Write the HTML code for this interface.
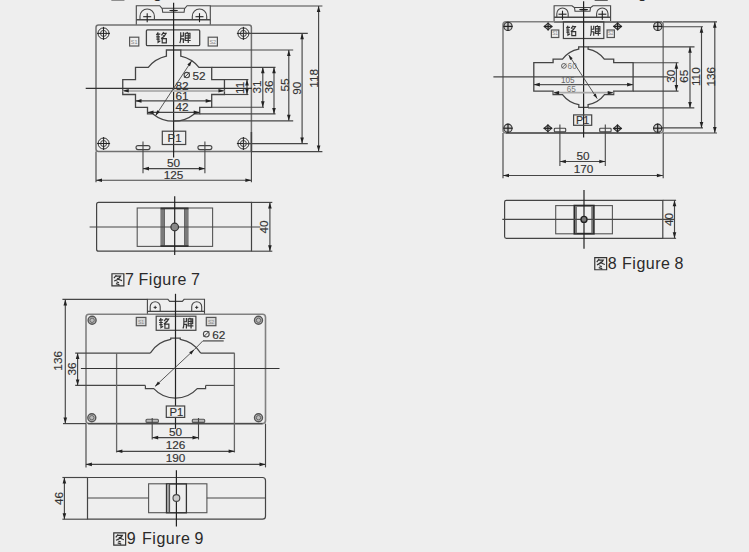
<!DOCTYPE html>
<html><head><meta charset="utf-8"><style>
html,body{margin:0;padding:0;background:#eeeeee;}
svg{display:block;font-family:"Liberation Sans",sans-serif;}
</style></head><body>
<svg width="749" height="552" viewBox="0 0 749 552">
<path transform="translate(111.30,-12.90) scale(1.100)" d="M0.6,0.6 H11.4 V11.6 H0.6 Z M4.6,1.8 L2.4,4.6 M3.8,2.8 H8.4 Q6.8,5.8 2.6,7.2 M5.2,4.6 Q7.5,6.2 9.8,6.8 M4.8,8 L7,8.8 M4.2,9.6 L7.4,10.6" stroke="#333" stroke-width="1.09" fill="none" stroke-linejoin="miter"/>
<text x="124.90" y="-1.90" font-size="16" text-anchor="start" fill="#2a2a2a">6</text>
<text x="138.60" y="-1.90" font-size="16" text-anchor="start" fill="#2a2a2a" letter-spacing="0.5" word-spacing="-0.8">Figure 6</text>
<path d="M136.3,25 V5.7 H159.7 L161.89999999999998,8.3 H184.9 L187.1,5.7 H210.3 V25" stroke="#464646" stroke-width="1.1" fill="none"/>
<path d="M162.2,8.3 L162.7,12.2 H184.1 L184.6,8.3" stroke="#464646" stroke-width="1.1" fill="none"/>
<line x1="136.30" y1="19.70" x2="210.30" y2="19.70" stroke="#464646" stroke-width="1.4"/>
<ellipse cx="173.6" cy="10.55" rx="4.5" ry="0.8" fill="#222"/>
<path d="M140.0,19.7 V16.2 A7.2,7.2 0 0 1 154.39999999999998,16.2 V19.7" stroke="#464646" stroke-width="1.1" fill="none"/>
<line x1="143.20" y1="16.70" x2="151.20" y2="16.70" stroke="#222" stroke-width="1.1"/>
<line x1="147.20" y1="13.20" x2="147.20" y2="22.20" stroke="#222" stroke-width="1.1"/>
<path d="M192.3,19.7 V16.2 A7.2,7.2 0 0 1 206.7,16.2 V19.7" stroke="#464646" stroke-width="1.1" fill="none"/>
<line x1="195.50" y1="16.70" x2="203.50" y2="16.70" stroke="#222" stroke-width="1.1"/>
<line x1="199.50" y1="13.20" x2="199.50" y2="22.20" stroke="#222" stroke-width="1.1"/>
<path d="M251.4,151.6 H98.5 Q96,151.6 96,149.1 V27.5 Q96,25 98.5,25 H248.9 Q251.4,25 251.4,27.5 Z" stroke="#707070" stroke-width="1.5" fill="none"/>
<line x1="251.40" y1="132.00" x2="251.40" y2="151.60" stroke="#444" stroke-width="1.5"/>
<circle cx="103.50" cy="33.40" r="5.50" stroke="#222" stroke-width="0.95" fill="none"/>
<circle cx="103.50" cy="33.40" r="3.03" stroke="#333" stroke-width="0.9" fill="none"/>
<line x1="97.00" y1="33.40" x2="110.00" y2="33.40" stroke="#222" stroke-width="1.0"/>
<line x1="103.50" y1="26.90" x2="103.50" y2="39.90" stroke="#222" stroke-width="1.0"/>
<circle cx="243.40" cy="33.40" r="5.50" stroke="#222" stroke-width="0.95" fill="none"/>
<circle cx="243.40" cy="33.40" r="3.03" stroke="#333" stroke-width="0.9" fill="none"/>
<line x1="236.90" y1="33.40" x2="249.90" y2="33.40" stroke="#222" stroke-width="1.0"/>
<line x1="243.40" y1="26.90" x2="243.40" y2="39.90" stroke="#222" stroke-width="1.0"/>
<circle cx="103.60" cy="143.50" r="5.50" stroke="#222" stroke-width="0.95" fill="none"/>
<circle cx="103.60" cy="143.50" r="3.03" stroke="#333" stroke-width="0.9" fill="none"/>
<line x1="97.10" y1="143.50" x2="110.10" y2="143.50" stroke="#222" stroke-width="1.0"/>
<line x1="103.60" y1="137.00" x2="103.60" y2="150.00" stroke="#222" stroke-width="1.0"/>
<circle cx="243.40" cy="143.50" r="5.50" stroke="#222" stroke-width="0.95" fill="none"/>
<circle cx="243.40" cy="143.50" r="3.03" stroke="#333" stroke-width="0.9" fill="none"/>
<line x1="236.90" y1="143.50" x2="249.90" y2="143.50" stroke="#222" stroke-width="1.0"/>
<line x1="243.40" y1="137.00" x2="243.40" y2="150.00" stroke="#222" stroke-width="1.0"/>
<rect x="146.40" y="29.90" width="53.30" height="15.80" rx="1" stroke="#444" stroke-width="1.3" fill="none"/>
<path transform="translate(155.80,32.00) scale(0.942)" d="M2.6,0.4 L0.6,3.4 M1.6,2.2 H4.8 M0.4,5.2 H4.4 M0.6,7.6 H4.2 M2.4,2.4 V11 L4.8,9.4 M8.4,0.2 L6,3.6 M7.6,1.4 H11 Q9.5,5 5.6,7 M7.6,3.6 L9.4,4.8 M6.8,7 H11.2 V11.6 H6.8 Z" stroke="#333" stroke-width="1.27" fill="none" stroke-linejoin="miter"/>
<path transform="translate(179.40,32.00) scale(0.942)" d="M1.4,0.3 V6 Q1.4,10 0.4,11.8 M1.4,4.4 H4.8 M4.2,0.3 V4.4 M1.4,7.2 H4.2 V11.8 M8.6,0 L7.8,1.2 M6.2,1.3 H11.2 V6.6 H6.2 Z M6.2,4 H11.2 M6.8,6.6 L5.6,8.6 M5.4,9 H12 M9.4,1.3 V11.8" stroke="#333" stroke-width="1.27" fill="none" stroke-linejoin="miter"/>
<rect x="129.60" y="37.20" width="9.20" height="8.80" rx="0" stroke="#555" stroke-width="1.2" fill="none"/>
<text x="134.20" y="43.80" font-size="5.46" text-anchor="middle" fill="#888">S1</text>
<rect x="208.20" y="37.20" width="9.20" height="8.80" rx="0" stroke="#555" stroke-width="1.2" fill="none"/>
<text x="212.80" y="43.80" font-size="5.46" text-anchor="middle" fill="#888">S2</text>
<path d="M166.40,50 V56.20 A32.9,32.9 0 0 0 148.27,67.3 H135.5 V79.6 H122.75 V94.5 H135.5 V107.4 H147.5 V113.9 H152.93 A32.9,32.9 0 0 0 194.27,113.9 H199.7 V107.4 H211.7 V94.5 H224.45 V79.6 H211.7 V67.3 H198.93 A32.9,32.9 0 0 0 180.80,56.20 V50 Z" stroke="#444" stroke-width="1.3" fill="none"/>
<line x1="173.60" y1="2.80" x2="173.60" y2="157.50" stroke="#222" stroke-width="1.2"/>
<line x1="85.70" y1="88.30" x2="252.00" y2="88.30" stroke="#333" stroke-width="1.2"/>
<line x1="122.75" y1="90.80" x2="224.45" y2="90.80" stroke="#b4b4b4" stroke-width="2.2"/>
<path d="M122.75,90.80 L128.75,89.00 L128.75,92.60 Z" fill="#222" stroke="none"/>
<path d="M224.45,90.80 L218.45,92.60 L218.45,89.00 Z" fill="#222" stroke="none"/>
<line x1="135.50" y1="100.90" x2="211.70" y2="100.90" stroke="#464646" stroke-width="1.15"/>
<path d="M135.50,100.90 L141.50,99.10 L141.50,102.70 Z" fill="#222" stroke="none"/>
<path d="M211.70,100.90 L205.70,102.70 L205.70,99.10 Z" fill="#222" stroke="none"/>
<line x1="147.50" y1="112.40" x2="199.70" y2="112.40" stroke="#464646" stroke-width="1.15"/>
<path d="M147.50,112.40 L153.50,110.60 L153.50,114.20 Z" fill="#222" stroke="none"/>
<path d="M199.70,112.40 L193.70,114.20 L193.70,110.60 Z" fill="#222" stroke="none"/>
<text x="175.50" y="89.60" font-size="11.8" text-anchor="start" fill="#333" stroke="#333" stroke-width="0.15">82</text>
<text x="175.50" y="99.80" font-size="11.8" text-anchor="start" fill="#333" stroke="#333" stroke-width="0.15">61</text>
<text x="175.50" y="110.60" font-size="11.8" text-anchor="start" fill="#333" stroke="#333" stroke-width="0.15">42</text>
<line x1="155.49" y1="115.77" x2="191.71" y2="60.83" stroke="#464646" stroke-width="0.9"/>
<path d="M191.71,60.83 L190.02,66.30 L187.34,64.54 Z" fill="#222" stroke="none"/>
<path d="M155.49,115.77 L157.18,110.30 L159.86,112.06 Z" fill="#222" stroke="none"/>
<circle cx="186.80" cy="75.10" r="2.70" stroke="#444" stroke-width="1.1" fill="none"/>
<line x1="184.24" y1="77.66" x2="189.37" y2="72.53" stroke="#444" stroke-width="0.9900000000000001"/>
<text x="192.40" y="79.60" font-size="11.8" text-anchor="start" fill="#333" stroke="#333" stroke-width="0.15">52</text>
<line x1="210.30" y1="6.00" x2="322.40" y2="6.00" stroke="#464646" stroke-width="1.15"/>
<line x1="243.40" y1="33.30" x2="307.80" y2="33.30" stroke="#464646" stroke-width="1.15"/>
<line x1="180.80" y1="50.00" x2="293.20" y2="50.00" stroke="#464646" stroke-width="1.15"/>
<line x1="211.70" y1="67.30" x2="275.50" y2="67.30" stroke="#464646" stroke-width="1.15"/>
<line x1="224.45" y1="79.60" x2="248.40" y2="79.60" stroke="#464646" stroke-width="1.15"/>
<line x1="224.45" y1="94.50" x2="248.40" y2="94.50" stroke="#464646" stroke-width="1.15"/>
<line x1="211.70" y1="107.20" x2="264.00" y2="107.20" stroke="#464646" stroke-width="1.15"/>
<line x1="199.70" y1="113.90" x2="275.50" y2="113.90" stroke="#464646" stroke-width="1.15"/>
<line x1="173.60" y1="120.80" x2="293.20" y2="120.80" stroke="#464646" stroke-width="1.15"/>
<line x1="243.40" y1="143.60" x2="307.80" y2="143.60" stroke="#464646" stroke-width="1.15"/>
<line x1="251.40" y1="151.60" x2="322.40" y2="151.60" stroke="#464646" stroke-width="1.15"/>
<line x1="247.00" y1="79.60" x2="247.00" y2="94.50" stroke="#464646" stroke-width="1.15"/>
<path d="M247.00,79.60 L248.80,85.60 L245.20,85.60 Z" fill="#222" stroke="none"/>
<path d="M247.00,94.50 L245.20,88.50 L248.80,88.50 Z" fill="#222" stroke="none"/>
<line x1="262.80" y1="67.30" x2="262.80" y2="107.20" stroke="#464646" stroke-width="1.15"/>
<path d="M262.80,67.30 L264.60,73.30 L261.00,73.30 Z" fill="#222" stroke="none"/>
<path d="M262.80,107.20 L261.00,101.20 L264.60,101.20 Z" fill="#222" stroke="none"/>
<line x1="274.00" y1="67.30" x2="274.00" y2="113.90" stroke="#464646" stroke-width="1.15"/>
<path d="M274.00,67.30 L275.80,73.30 L272.20,73.30 Z" fill="#222" stroke="none"/>
<path d="M274.00,113.90 L272.20,107.90 L275.80,107.90 Z" fill="#222" stroke="none"/>
<line x1="288.80" y1="50.00" x2="288.80" y2="120.80" stroke="#464646" stroke-width="1.15"/>
<path d="M288.80,50.00 L290.60,56.00 L287.00,56.00 Z" fill="#222" stroke="none"/>
<path d="M288.80,120.80 L287.00,114.80 L290.60,114.80 Z" fill="#222" stroke="none"/>
<line x1="302.10" y1="33.30" x2="302.10" y2="143.60" stroke="#464646" stroke-width="1.15"/>
<path d="M302.10,33.30 L303.90,39.30 L300.30,39.30 Z" fill="#222" stroke="none"/>
<path d="M302.10,143.60 L300.30,137.60 L303.90,137.60 Z" fill="#222" stroke="none"/>
<line x1="318.60" y1="6.00" x2="318.60" y2="151.60" stroke="#464646" stroke-width="1.15"/>
<path d="M318.60,6.00 L320.40,12.00 L316.80,12.00 Z" fill="#222" stroke="none"/>
<path d="M318.60,151.60 L316.80,145.60 L320.40,145.60 Z" fill="#222" stroke="none"/>
<text x="244.00" y="87.80" font-size="11.8" text-anchor="middle" fill="#333" stroke="#333" stroke-width="0.15" transform="rotate(-90 244.00 87.80)">11</text>
<text x="261.40" y="87.00" font-size="11.8" text-anchor="middle" fill="#333" stroke="#333" stroke-width="0.15" transform="rotate(-90 261.40 87.00)">31</text>
<text x="273.40" y="87.00" font-size="11.8" text-anchor="middle" fill="#333" stroke="#333" stroke-width="0.15" transform="rotate(-90 273.40 87.00)">36</text>
<text x="288.60" y="85.00" font-size="11.8" text-anchor="middle" fill="#333" stroke="#333" stroke-width="0.15" transform="rotate(-90 288.60 85.00)">55</text>
<text x="301.30" y="88.20" font-size="11.8" text-anchor="middle" fill="#333" stroke="#333" stroke-width="0.15" transform="rotate(-90 301.30 88.20)">90</text>
<text x="317.80" y="78.30" font-size="11.8" text-anchor="middle" fill="#333" stroke="#333" stroke-width="0.15" transform="rotate(-90 317.80 78.30)">118</text>
<rect x="136.00" y="145.60" width="14.00" height="4.00" rx="2" stroke="#444" stroke-width="1.1" fill="none"/>
<line x1="143.00" y1="141.50" x2="143.00" y2="173.30" stroke="#464646" stroke-width="1.1"/>
<rect x="197.90" y="145.60" width="14.00" height="4.00" rx="2" stroke="#444" stroke-width="1.1" fill="none"/>
<line x1="204.90" y1="141.50" x2="204.90" y2="173.30" stroke="#464646" stroke-width="1.1"/>
<line x1="96.00" y1="151.60" x2="96.00" y2="182.20" stroke="#464646" stroke-width="1.15"/>
<line x1="251.40" y1="151.60" x2="251.40" y2="182.20" stroke="#464646" stroke-width="1.15"/>
<line x1="143.00" y1="168.60" x2="204.90" y2="168.60" stroke="#464646" stroke-width="1.15"/>
<path d="M143.00,168.60 L149.00,166.80 L149.00,170.40 Z" fill="#222" stroke="none"/>
<path d="M204.90,168.60 L198.90,170.40 L198.90,166.80 Z" fill="#222" stroke="none"/>
<line x1="96.00" y1="180.20" x2="251.40" y2="180.20" stroke="#464646" stroke-width="1.15"/>
<path d="M96.00,180.20 L102.00,178.40 L102.00,182.00 Z" fill="#222" stroke="none"/>
<path d="M251.40,180.20 L245.40,182.00 L245.40,178.40 Z" fill="#222" stroke="none"/>
<text x="173.60" y="166.80" font-size="11.8" text-anchor="middle" fill="#333" stroke="#333" stroke-width="0.15">50</text>
<text x="173.60" y="178.90" font-size="11.8" text-anchor="middle" fill="#333" stroke="#333" stroke-width="0.15">125</text>
<rect x="162.30" y="131.20" width="23.40" height="13.30" rx="0" stroke="#444" stroke-width="1.2" fill="none"/>
<text x="167.60" y="142.20" font-size="11.3" text-anchor="start" fill="#333" stroke="#333" stroke-width="0.15">P1</text>
<path d="M251.5,202.4 H98.6 Q96.6,202.4 96.6,204.4 V249.2 Q96.6,251.2 98.6,251.2 H251.5 Z" stroke="#444" stroke-width="1.2" fill="none"/>
<rect x="137.20" y="208.00" width="75.40" height="38.40" rx="0" stroke="#555" stroke-width="1.1" fill="none"/>
<rect x="160.4" y="208.2" width="4.2" height="38" fill="#7a7a7a"/>
<rect x="184.4" y="208.2" width="4.2" height="38" fill="#7a7a7a"/>
<line x1="164.50" y1="209.00" x2="164.50" y2="245.50" stroke="#555" stroke-width="0.8"/>
<line x1="184.50" y1="209.00" x2="184.50" y2="245.50" stroke="#555" stroke-width="0.8"/>
<line x1="160.50" y1="208.40" x2="188.50" y2="208.40" stroke="#333" stroke-width="1.8"/>
<line x1="160.50" y1="246.10" x2="188.50" y2="246.10" stroke="#333" stroke-width="1.8"/>
<line x1="174.70" y1="196.20" x2="174.70" y2="255.00" stroke="#222" stroke-width="1.2"/>
<line x1="89.60" y1="227.00" x2="260.30" y2="227.00" stroke="#464646" stroke-width="1.1"/>
<circle cx="174.70" cy="227.00" r="3.80" stroke="#333" stroke-width="1.2" fill="#888"/>
<line x1="251.50" y1="202.40" x2="272.30" y2="202.40" stroke="#464646" stroke-width="1.15"/>
<line x1="251.50" y1="251.20" x2="272.30" y2="251.20" stroke="#464646" stroke-width="1.15"/>
<line x1="269.90" y1="202.40" x2="269.90" y2="251.20" stroke="#464646" stroke-width="1.15"/>
<path d="M269.90,202.40 L271.70,208.40 L268.10,208.40 Z" fill="#222" stroke="none"/>
<path d="M269.90,251.20 L268.10,245.20 L271.70,245.20 Z" fill="#222" stroke="none"/>
<text x="268.40" y="227.00" font-size="11.8" text-anchor="middle" fill="#333" stroke="#333" stroke-width="0.15" transform="rotate(-90 268.40 227.00)">40</text>
<path transform="translate(111.30,273.10) scale(1.100)" d="M0.6,0.6 H11.4 V11.6 H0.6 Z M4.6,1.8 L2.4,4.6 M3.8,2.8 H8.4 Q6.8,5.8 2.6,7.2 M5.2,4.6 Q7.5,6.2 9.8,6.8 M4.8,8 L7,8.8 M4.2,9.6 L7.4,10.6" stroke="#333" stroke-width="1.09" fill="none" stroke-linejoin="miter"/>
<text x="124.90" y="284.50" font-size="16" text-anchor="start" fill="#2a2a2a">7</text>
<text x="138.60" y="284.50" font-size="16" text-anchor="start" fill="#2a2a2a" letter-spacing="0.5" word-spacing="-0.8">Figure 7</text>
<path transform="translate(594.60,-12.60) scale(1.100)" d="M0.6,0.6 H11.4 V11.6 H0.6 Z M4.6,1.8 L2.4,4.6 M3.8,2.8 H8.4 Q6.8,5.8 2.6,7.2 M5.2,4.6 Q7.5,6.2 9.8,6.8 M4.8,8 L7,8.8 M4.2,9.6 L7.4,10.6" stroke="#333" stroke-width="1.09" fill="none" stroke-linejoin="miter"/>
<text x="608.20" y="-1.70" font-size="16" text-anchor="start" fill="#2a2a2a">6</text>
<text x="623.40" y="-1.70" font-size="16" text-anchor="start" fill="#2a2a2a" letter-spacing="0.5" word-spacing="-0.8">Figure 6</text>
<path d="M554.1,21.8 V5.7 H572.0 L574.2,7.5 H590.8 L593.0,5.7 H610.6 V21.8" stroke="#464646" stroke-width="1.1" fill="none"/>
<path d="M574.5,7.5 L575.0,11.2 H590.0 L590.5,7.5" stroke="#464646" stroke-width="1.1" fill="none"/>
<line x1="554.10" y1="17.20" x2="610.60" y2="17.20" stroke="#464646" stroke-width="1.4"/>
<ellipse cx="583.6" cy="9.65" rx="4.5" ry="0.8" fill="#222"/>
<path d="M556.8,17.2 V13.7 A5.7,5.7 0 0 1 568.2,13.7 V17.2" stroke="#464646" stroke-width="1.1" fill="none"/>
<line x1="558.50" y1="14.20" x2="566.50" y2="14.20" stroke="#222" stroke-width="1.1"/>
<line x1="562.50" y1="10.70" x2="562.50" y2="19.70" stroke="#222" stroke-width="1.1"/>
<path d="M596.5999999999999,17.2 V13.7 A5.7,5.7 0 0 1 608.0,13.7 V17.2" stroke="#464646" stroke-width="1.1" fill="none"/>
<line x1="598.30" y1="14.20" x2="606.30" y2="14.20" stroke="#222" stroke-width="1.1"/>
<line x1="602.30" y1="10.70" x2="602.30" y2="19.70" stroke="#222" stroke-width="1.1"/>
<rect x="503.00" y="21.80" width="160.20" height="111.20" rx="3" stroke="#808080" stroke-width="1.6" fill="none"/>
<line x1="506.00" y1="133.00" x2="660.00" y2="133.00" stroke="#555" stroke-width="1.3"/>
<line x1="554.10" y1="21.90" x2="662.00" y2="21.90" stroke="#777" stroke-width="2"/>
<circle cx="508.00" cy="26.40" r="4.10" stroke="#333" stroke-width="1.1" fill="#ccc"/>
<line x1="503.40" y1="26.40" x2="512.60" y2="26.40" stroke="#222" stroke-width="1.2"/>
<line x1="508.00" y1="21.80" x2="508.00" y2="31.00" stroke="#222" stroke-width="1.2"/>
<circle cx="657.80" cy="26.40" r="4.10" stroke="#333" stroke-width="1.1" fill="#ccc"/>
<line x1="653.20" y1="26.40" x2="662.40" y2="26.40" stroke="#222" stroke-width="1.2"/>
<line x1="657.80" y1="21.80" x2="657.80" y2="31.00" stroke="#222" stroke-width="1.2"/>
<circle cx="508.00" cy="128.20" r="4.10" stroke="#333" stroke-width="1.1" fill="#ccc"/>
<line x1="503.40" y1="128.20" x2="512.60" y2="128.20" stroke="#222" stroke-width="1.2"/>
<line x1="508.00" y1="123.60" x2="508.00" y2="132.80" stroke="#222" stroke-width="1.2"/>
<circle cx="657.70" cy="128.20" r="4.10" stroke="#333" stroke-width="1.1" fill="#ccc"/>
<line x1="653.10" y1="128.20" x2="662.30" y2="128.20" stroke="#222" stroke-width="1.2"/>
<line x1="657.70" y1="123.60" x2="657.70" y2="132.80" stroke="#222" stroke-width="1.2"/>
<path d="M544.20,26.50 L548.10,23.18 L552.00,26.50 L548.10,29.82 Z" stroke="#333" stroke-width="1.1" fill="#c8c8c8"/>
<line x1="543.90" y1="26.50" x2="552.30" y2="26.50" stroke="#222" stroke-width="1.3"/>
<line x1="548.10" y1="22.60" x2="548.10" y2="30.40" stroke="#222" stroke-width="1.2"/>
<path d="M613.70,26.40 L617.60,23.08 L621.50,26.40 L617.60,29.71 Z" stroke="#333" stroke-width="1.1" fill="#c8c8c8"/>
<line x1="613.40" y1="26.40" x2="621.80" y2="26.40" stroke="#222" stroke-width="1.3"/>
<line x1="617.60" y1="22.50" x2="617.60" y2="30.30" stroke="#222" stroke-width="1.2"/>
<path d="M544.00,128.30 L547.90,124.99 L551.80,128.30 L547.90,131.62 Z" stroke="#333" stroke-width="1.1" fill="#c8c8c8"/>
<line x1="543.70" y1="128.30" x2="552.10" y2="128.30" stroke="#222" stroke-width="1.3"/>
<line x1="547.90" y1="124.40" x2="547.90" y2="132.20" stroke="#222" stroke-width="1.2"/>
<path d="M613.60,128.40 L617.50,125.09 L621.40,128.40 L617.50,131.72 Z" stroke="#333" stroke-width="1.1" fill="#c8c8c8"/>
<line x1="613.30" y1="128.40" x2="621.70" y2="128.40" stroke="#222" stroke-width="1.3"/>
<line x1="617.50" y1="124.50" x2="617.50" y2="132.30" stroke="#222" stroke-width="1.2"/>
<rect x="563.40" y="21.80" width="40.40" height="16.70" rx="0" stroke="#444" stroke-width="1.2" fill="none"/>
<path transform="translate(565.80,25.40) scale(0.883)" d="M2.6,0.4 L0.6,3.4 M1.6,2.2 H4.8 M0.4,5.2 H4.4 M0.6,7.6 H4.2 M2.4,2.4 V11 L4.8,9.4 M8.4,0.2 L6,3.6 M7.6,1.4 H11 Q9.5,5 5.6,7 M7.6,3.6 L9.4,4.8 M6.8,7 H11.2 V11.6 H6.8 Z" stroke="#333" stroke-width="1.30" fill="none" stroke-linejoin="miter"/>
<path transform="translate(590.00,25.40) scale(0.883)" d="M1.4,0.3 V6 Q1.4,10 0.4,11.8 M1.4,4.4 H4.8 M4.2,0.3 V4.4 M1.4,7.2 H4.2 V11.8 M8.6,0 L7.8,1.2 M6.2,1.3 H11.2 V6.6 H6.2 Z M6.2,4 H11.2 M6.8,6.6 L5.6,8.6 M5.4,9 H12 M9.4,1.3 V11.8" stroke="#333" stroke-width="1.30" fill="none" stroke-linejoin="miter"/>
<rect x="551.40" y="30.00" width="7.40" height="7.50" rx="0" stroke="#555" stroke-width="1.2" fill="none"/>
<text x="555.10" y="35.30" font-size="4.65" text-anchor="middle" fill="#888">S1</text>
<rect x="607.10" y="30.00" width="7.30" height="7.50" rx="0" stroke="#555" stroke-width="1.2" fill="none"/>
<text x="610.75" y="35.30" font-size="4.65" text-anchor="middle" fill="#888">S2</text>
<path d="M578.7,46.8 V49.2 A26.5,26.5 0 0 0 562.5,59.2 H553.1 V62.7 H533.8 V91.1 H553.1 V94.6 H562.5 A26.5,26.5 0 0 0 578.8,104.6 V107.4 H588.1 V104.6 A26.5,26.5 0 0 0 604.5,94.6 H613.7 V91.1 H633.1 V62.7 H613.7 V59.2 H604.3 A26.5,26.5 0 0 0 588.1,49.2 V46.8 Z" stroke="#444" stroke-width="1.3" fill="none"/>
<line x1="583.60" y1="1.30" x2="583.60" y2="137.60" stroke="#222" stroke-width="1.2"/>
<line x1="493.40" y1="76.80" x2="668.00" y2="76.80" stroke="#444" stroke-width="1.2"/>
<line x1="533.80" y1="84.60" x2="633.10" y2="84.60" stroke="#555" stroke-width="1.15"/>
<path d="M533.80,84.60 L539.80,82.80 L539.80,86.40 Z" fill="#222" stroke="none"/>
<path d="M633.10,84.60 L627.10,86.40 L627.10,82.80 Z" fill="#222" stroke="none"/>
<line x1="553.10" y1="92.70" x2="613.70" y2="92.70" stroke="#aaa" stroke-width="1.8"/>
<path d="M553.10,92.70 L559.10,90.90 L559.10,94.50 Z" fill="#222" stroke="none"/>
<path d="M613.70,92.70 L607.70,94.50 L607.70,90.90 Z" fill="#222" stroke="none"/>
<text x="567.80" y="83.20" font-size="8.2" text-anchor="middle" fill="#666">105</text>
<text x="571.20" y="92.10" font-size="8.2" text-anchor="middle" fill="#777">65</text>
<circle cx="563.90" cy="65.90" r="2.40" stroke="#555" stroke-width="0.9" fill="none"/>
<line x1="561.62" y1="68.18" x2="566.18" y2="63.62" stroke="#555" stroke-width="0.81"/>
<text x="567.60" y="68.90" font-size="8.2" text-anchor="start" fill="#777">60</text>
<line x1="568.70" y1="55.00" x2="597.20" y2="98.60" stroke="#464646" stroke-width="0.9"/>
<path d="M568.70,55.00 L572.69,58.36 L570.18,60.01 Z" fill="#222" stroke="none"/>
<path d="M597.20,98.60 L593.21,95.24 L595.72,93.59 Z" fill="#222" stroke="none"/>
<line x1="588.10" y1="46.80" x2="694.50" y2="46.80" stroke="#464646" stroke-width="1.15"/>
<line x1="633.10" y1="62.70" x2="678.50" y2="62.70" stroke="#464646" stroke-width="1.15"/>
<line x1="633.10" y1="91.10" x2="678.50" y2="91.10" stroke="#464646" stroke-width="1.15"/>
<line x1="588.10" y1="107.90" x2="694.30" y2="107.90" stroke="#464646" stroke-width="1.15"/>
<line x1="662.00" y1="26.70" x2="703.00" y2="26.70" stroke="#464646" stroke-width="1.15"/>
<line x1="662.00" y1="127.90" x2="703.00" y2="127.90" stroke="#464646" stroke-width="1.15"/>
<line x1="663.00" y1="21.80" x2="717.00" y2="21.80" stroke="#464646" stroke-width="1.2"/>
<line x1="663.00" y1="133.00" x2="717.00" y2="133.00" stroke="#464646" stroke-width="1.2"/>
<line x1="676.40" y1="62.70" x2="676.40" y2="91.10" stroke="#464646" stroke-width="1.15"/>
<path d="M676.40,62.70 L678.20,68.70 L674.60,68.70 Z" fill="#222" stroke="none"/>
<path d="M676.40,91.10 L674.60,85.10 L678.20,85.10 Z" fill="#222" stroke="none"/>
<line x1="690.00" y1="46.80" x2="690.00" y2="107.90" stroke="#464646" stroke-width="1.15"/>
<path d="M690.00,46.80 L691.80,52.80 L688.20,52.80 Z" fill="#222" stroke="none"/>
<path d="M690.00,107.90 L688.20,101.90 L691.80,101.90 Z" fill="#222" stroke="none"/>
<line x1="701.50" y1="26.70" x2="701.50" y2="127.90" stroke="#464646" stroke-width="1.15"/>
<path d="M701.50,26.70 L703.30,32.70 L699.70,32.70 Z" fill="#222" stroke="none"/>
<path d="M701.50,127.90 L699.70,121.90 L703.30,121.90 Z" fill="#222" stroke="none"/>
<line x1="714.80" y1="21.80" x2="714.80" y2="133.00" stroke="#464646" stroke-width="1.15"/>
<path d="M714.80,21.80 L716.60,27.80 L713.00,27.80 Z" fill="#222" stroke="none"/>
<path d="M714.80,133.00 L713.00,127.00 L716.60,127.00 Z" fill="#222" stroke="none"/>
<text x="675.30" y="76.30" font-size="11.8" text-anchor="middle" fill="#333" stroke="#333" stroke-width="0.15" transform="rotate(-90 675.30 76.30)">30</text>
<text x="688.50" y="76.30" font-size="11.8" text-anchor="middle" fill="#333" stroke="#333" stroke-width="0.15" transform="rotate(-90 688.50 76.30)">65</text>
<text x="700.10" y="76.70" font-size="11.8" text-anchor="middle" fill="#333" stroke="#333" stroke-width="0.15" transform="rotate(-90 700.10 76.70)">110</text>
<text x="715.20" y="76.70" font-size="11.8" text-anchor="middle" fill="#333" stroke="#333" stroke-width="0.15" transform="rotate(-90 715.20 76.70)">136</text>
<rect x="554.30" y="128.30" width="11.40" height="3.60" rx="0.8" stroke="#444" stroke-width="1.1" fill="none"/>
<line x1="559.90" y1="124.60" x2="559.90" y2="165.90" stroke="#464646" stroke-width="1.1"/>
<rect x="599.70" y="128.30" width="11.40" height="3.60" rx="0.8" stroke="#444" stroke-width="1.1" fill="none"/>
<line x1="605.30" y1="124.60" x2="605.30" y2="165.90" stroke="#464646" stroke-width="1.1"/>
<line x1="503.00" y1="133.00" x2="503.00" y2="178.20" stroke="#464646" stroke-width="1.15"/>
<line x1="663.20" y1="133.00" x2="663.20" y2="178.20" stroke="#464646" stroke-width="1.15"/>
<line x1="559.90" y1="161.50" x2="605.30" y2="161.50" stroke="#464646" stroke-width="1.15"/>
<path d="M559.90,161.50 L565.90,159.70 L565.90,163.30 Z" fill="#222" stroke="none"/>
<path d="M605.30,161.50 L599.30,163.30 L599.30,159.70 Z" fill="#222" stroke="none"/>
<line x1="503.00" y1="175.50" x2="662.90" y2="175.50" stroke="#464646" stroke-width="1.15"/>
<path d="M503.00,175.50 L509.00,173.70 L509.00,177.30 Z" fill="#222" stroke="none"/>
<path d="M662.90,175.50 L656.90,177.30 L656.90,173.70 Z" fill="#222" stroke="none"/>
<text x="583.00" y="159.80" font-size="11.8" text-anchor="middle" fill="#333" stroke="#333" stroke-width="0.15">50</text>
<text x="583.50" y="172.80" font-size="11.8" text-anchor="middle" fill="#333" stroke="#333" stroke-width="0.15">170</text>
<rect x="573.60" y="114.90" width="18.10" height="10.40" rx="0" stroke="#444" stroke-width="1.2" fill="none"/>
<text x="576.00" y="124.00" font-size="10.8" text-anchor="start" fill="#333" stroke="#333" stroke-width="0.15">P1</text>
<path d="M662.8,200.3 H506.4 Q504.6,200.3 504.6,202.1 V236.5 Q504.6,238.3 506.4,238.3 H662.8 Z" stroke="#444" stroke-width="1.2" fill="none"/>
<rect x="555.70" y="205.60" width="56.70" height="28.20" rx="0" stroke="#555" stroke-width="1.1" fill="none"/>
<rect x="574.40" y="205.60" width="19.40" height="28.10" rx="0" stroke="#2a2a2a" stroke-width="1.8" fill="none"/>
<rect x="575" y="206.2" width="2" height="27" fill="#777"/>
<rect x="591.2" y="206.2" width="2" height="27" fill="#777"/>
<line x1="584.00" y1="190.00" x2="584.00" y2="248.70" stroke="#222" stroke-width="1.2"/>
<line x1="502.30" y1="219.40" x2="674.00" y2="219.40" stroke="#464646" stroke-width="1.1"/>
<circle cx="584.00" cy="219.40" r="3.00" stroke="#222" stroke-width="1.4" fill="#777"/>
<line x1="662.80" y1="200.30" x2="676.10" y2="200.30" stroke="#464646" stroke-width="1.15"/>
<line x1="662.80" y1="238.30" x2="676.10" y2="238.30" stroke="#464646" stroke-width="1.15"/>
<line x1="674.50" y1="200.30" x2="674.50" y2="238.30" stroke="#464646" stroke-width="1.15"/>
<path d="M674.50,200.30 L676.30,206.30 L672.70,206.30 Z" fill="#222" stroke="none"/>
<path d="M674.50,238.30 L672.70,232.30 L676.30,232.30 Z" fill="#222" stroke="none"/>
<text x="673.30" y="219.50" font-size="11.8" text-anchor="middle" fill="#333" stroke="#333" stroke-width="0.15" transform="rotate(-90 673.30 219.50)">40</text>
<path transform="translate(594.10,257.00) scale(1.100)" d="M0.6,0.6 H11.4 V11.6 H0.6 Z M4.6,1.8 L2.4,4.6 M3.8,2.8 H8.4 Q6.8,5.8 2.6,7.2 M5.2,4.6 Q7.5,6.2 9.8,6.8 M4.8,8 L7,8.8 M4.2,9.6 L7.4,10.6" stroke="#333" stroke-width="1.09" fill="none" stroke-linejoin="miter"/>
<text x="607.70" y="268.80" font-size="16" text-anchor="start" fill="#2a2a2a">8</text>
<text x="622.10" y="268.80" font-size="16" text-anchor="start" fill="#2a2a2a" letter-spacing="0.5" word-spacing="-0.8">Figure 8</text>
<path d="M147.4,314.2 V299.3 H167.9 L169.7,301.4 H182.3 L184.1,299.3 H204.5 V314.2" stroke="#464646" stroke-width="1.1" fill="none"/>
<line x1="147.40" y1="311.40" x2="204.50" y2="311.40" stroke="#464646" stroke-width="1.4"/>
<path d="M150.2,311.4 V306.7 A5,5 0 0 1 160.2,306.7 V311.4" stroke="#464646" stroke-width="1.1" fill="none"/>
<line x1="153.60" y1="307.40" x2="156.80" y2="307.40" stroke="#222" stroke-width="0.9"/>
<line x1="155.20" y1="305.80" x2="155.20" y2="309.00" stroke="#222" stroke-width="0.9"/>
<path d="M191.7,311.4 V306.7 A5,5 0 0 1 201.7,306.7 V311.4" stroke="#464646" stroke-width="1.1" fill="none"/>
<line x1="195.10" y1="307.40" x2="198.30" y2="307.40" stroke="#222" stroke-width="0.9"/>
<line x1="196.70" y1="305.80" x2="196.70" y2="309.00" stroke="#222" stroke-width="0.9"/>
<rect x="86.00" y="314.30" width="179.50" height="109.30" rx="3" stroke="#808080" stroke-width="1.6" fill="none"/>
<line x1="88.00" y1="423.60" x2="262.50" y2="423.60" stroke="#4a4a4a" stroke-width="1.4"/>
<circle cx="92.10" cy="320.30" r="4.00" stroke="#555" stroke-width="1.4" fill="#bbb"/>
<circle cx="92.10" cy="320.30" r="2.20" stroke="#666" stroke-width="1.0" fill="none"/>
<circle cx="258.50" cy="320.30" r="4.00" stroke="#555" stroke-width="1.4" fill="#bbb"/>
<circle cx="258.50" cy="320.30" r="2.20" stroke="#666" stroke-width="1.0" fill="none"/>
<circle cx="91.80" cy="417.70" r="4.00" stroke="#555" stroke-width="1.4" fill="#bbb"/>
<circle cx="91.80" cy="417.70" r="2.20" stroke="#666" stroke-width="1.0" fill="none"/>
<circle cx="258.50" cy="417.70" r="4.00" stroke="#555" stroke-width="1.4" fill="#bbb"/>
<circle cx="258.50" cy="417.70" r="2.20" stroke="#666" stroke-width="1.0" fill="none"/>
<rect x="156.20" y="316.20" width="39.70" height="14.10" rx="0" stroke="#444" stroke-width="1.2" fill="none"/>
<path transform="translate(158.80,317.80) scale(0.900)" d="M2.6,0.4 L0.6,3.4 M1.6,2.2 H4.8 M0.4,5.2 H4.4 M0.6,7.6 H4.2 M2.4,2.4 V11 L4.8,9.4 M8.4,0.2 L6,3.6 M7.6,1.4 H11 Q9.5,5 5.6,7 M7.6,3.6 L9.4,4.8 M6.8,7 H11.2 V11.6 H6.8 Z" stroke="#333" stroke-width="1.33" fill="none" stroke-linejoin="miter"/>
<path transform="translate(182.60,317.80) scale(0.900)" d="M1.4,0.3 V6 Q1.4,10 0.4,11.8 M1.4,4.4 H4.8 M4.2,0.3 V4.4 M1.4,7.2 H4.2 V11.8 M8.6,0 L7.8,1.2 M6.2,1.3 H11.2 V6.6 H6.2 Z M6.2,4 H11.2 M6.8,6.6 L5.6,8.6 M5.4,9 H12 M9.4,1.3 V11.8" stroke="#333" stroke-width="1.33" fill="none" stroke-linejoin="miter"/>
<rect x="136.30" y="317.40" width="9.60" height="8.30" rx="0" stroke="#555" stroke-width="1.2" fill="#d6d6d6"/>
<text x="141.10" y="323.50" font-size="5.15" text-anchor="middle" fill="#888">S1</text>
<rect x="206.30" y="317.40" width="9.60" height="8.30" rx="0" stroke="#555" stroke-width="1.2" fill="#d6d6d6"/>
<text x="211.10" y="323.50" font-size="5.15" text-anchor="middle" fill="#888">S2</text>
<path d="M150.28,353.1 A29.6,29.6 0 0 1 170.75,339.38 V338.2 H180.25 V339.38 A29.6,29.6 0 0 1 200.72,353.1" stroke="#444" stroke-width="1.2" fill="none"/>
<path d="M145.4,385.4 V388.7 H153.77 A29.6,29.6 0 0 0 197.23,388.7 H205.6 V385.4" stroke="#444" stroke-width="1.2" fill="none"/>
<line x1="75.20" y1="353.10" x2="150.28" y2="353.10" stroke="#464646" stroke-width="1.1"/>
<line x1="200.72" y1="353.10" x2="234.60" y2="353.10" stroke="#464646" stroke-width="1.1"/>
<line x1="75.20" y1="385.40" x2="145.40" y2="385.40" stroke="#464646" stroke-width="1.1"/>
<line x1="205.60" y1="385.40" x2="234.60" y2="385.40" stroke="#464646" stroke-width="1.1"/>
<line x1="116.60" y1="353.10" x2="116.60" y2="452.50" stroke="#666" stroke-width="1.3"/>
<line x1="234.40" y1="353.10" x2="234.40" y2="452.50" stroke="#666" stroke-width="1.3"/>
<line x1="175.50" y1="293.80" x2="175.50" y2="406.00" stroke="#222" stroke-width="1.2"/>
<line x1="175.50" y1="417.40" x2="175.50" y2="428.90" stroke="#222" stroke-width="1.2"/>
<line x1="80.90" y1="368.50" x2="279.50" y2="368.50" stroke="#333" stroke-width="1.2"/>
<line x1="155.00" y1="386.40" x2="194.30" y2="349.60" stroke="#464646" stroke-width="0.9"/>
<path d="M155.00,386.40 L157.92,381.47 L160.11,383.81 Z" fill="#222" stroke="none"/>
<path d="M194.30,349.60 L191.38,354.53 L189.19,352.19 Z" fill="#222" stroke="none"/>
<line x1="194.30" y1="349.60" x2="203.00" y2="340.70" stroke="#464646" stroke-width="0.9"/>
<line x1="203.00" y1="340.90" x2="223.70" y2="340.90" stroke="#555" stroke-width="1.3"/>
<circle cx="206.30" cy="334.10" r="2.90" stroke="#444" stroke-width="1.1" fill="none"/>
<line x1="203.55" y1="336.86" x2="209.06" y2="331.35" stroke="#444" stroke-width="0.9900000000000001"/>
<text x="212.20" y="338.70" font-size="11.8" text-anchor="start" fill="#333" stroke="#333" stroke-width="0.15">62</text>
<line x1="62.40" y1="299.40" x2="147.40" y2="299.40" stroke="#464646" stroke-width="1.1"/>
<line x1="63.00" y1="423.60" x2="86.00" y2="423.60" stroke="#464646" stroke-width="1.2"/>
<line x1="65.30" y1="299.40" x2="65.30" y2="423.60" stroke="#464646" stroke-width="1.15"/>
<path d="M65.30,299.40 L67.10,305.40 L63.50,305.40 Z" fill="#222" stroke="none"/>
<path d="M65.30,423.60 L63.50,417.60 L67.10,417.60 Z" fill="#222" stroke="none"/>
<text x="62.40" y="360.80" font-size="11.8" text-anchor="middle" fill="#333" stroke="#333" stroke-width="0.15" transform="rotate(-90 62.40 360.80)">136</text>
<line x1="77.60" y1="353.10" x2="77.60" y2="385.40" stroke="#464646" stroke-width="1.15"/>
<path d="M77.60,353.10 L79.40,359.10 L75.80,359.10 Z" fill="#222" stroke="none"/>
<path d="M77.60,385.40 L75.80,379.40 L79.40,379.40 Z" fill="#222" stroke="none"/>
<text x="76.00" y="369.00" font-size="11.8" text-anchor="middle" fill="#333" stroke="#333" stroke-width="0.15" transform="rotate(-90 76.00 369.00)">36</text>
<rect x="146.00" y="419.20" width="12.40" height="3.20" rx="1" stroke="#555" stroke-width="1.1" fill="#bbb"/>
<line x1="152.20" y1="418.00" x2="152.20" y2="439.50" stroke="#464646" stroke-width="1.1"/>
<rect x="192.30" y="419.20" width="12.40" height="3.20" rx="1" stroke="#555" stroke-width="1.1" fill="#bbb"/>
<line x1="198.50" y1="418.00" x2="198.50" y2="439.50" stroke="#464646" stroke-width="1.1"/>
<line x1="86.00" y1="423.60" x2="86.00" y2="467.40" stroke="#464646" stroke-width="1.15"/>
<line x1="265.50" y1="423.60" x2="265.50" y2="467.40" stroke="#464646" stroke-width="1.15"/>
<line x1="152.20" y1="437.60" x2="198.50" y2="437.60" stroke="#464646" stroke-width="1.15"/>
<path d="M152.20,437.60 L158.20,435.80 L158.20,439.40 Z" fill="#222" stroke="none"/>
<path d="M198.50,437.60 L192.50,439.40 L192.50,435.80 Z" fill="#222" stroke="none"/>
<line x1="116.40" y1="451.30" x2="234.60" y2="451.30" stroke="#464646" stroke-width="1.15"/>
<path d="M116.40,451.30 L122.40,449.50 L122.40,453.10 Z" fill="#222" stroke="none"/>
<path d="M234.60,451.30 L228.60,453.10 L228.60,449.50 Z" fill="#222" stroke="none"/>
<line x1="85.90" y1="464.40" x2="265.50" y2="464.40" stroke="#464646" stroke-width="1.15"/>
<path d="M85.90,464.40 L91.90,462.60 L91.90,466.20 Z" fill="#222" stroke="none"/>
<path d="M265.50,464.40 L259.50,466.20 L259.50,462.60 Z" fill="#222" stroke="none"/>
<text x="175.50" y="435.60" font-size="11.8" text-anchor="middle" fill="#333" stroke="#333" stroke-width="0.15">50</text>
<text x="175.50" y="449.10" font-size="11.8" text-anchor="middle" fill="#333" stroke="#333" stroke-width="0.15">126</text>
<text x="175.50" y="462.40" font-size="11.8" text-anchor="middle" fill="#333" stroke="#333" stroke-width="0.15">190</text>
<rect x="166.30" y="406.00" width="18.40" height="11.40" rx="0" stroke="#444" stroke-width="1.2" fill="none"/>
<text x="169.40" y="415.90" font-size="11.3" text-anchor="start" fill="#333" stroke="#333" stroke-width="0.15">P1</text>
<path d="M87.5,477.5 H262.5 Q265.5,477.5 265.5,480.5 V516.2 Q265.5,519.2 262.5,519.2 H87.5 Z" stroke="#444" stroke-width="1.2" fill="none"/>
<line x1="62.40" y1="477.50" x2="87.50" y2="477.50" stroke="#464646" stroke-width="1.15"/>
<line x1="62.40" y1="519.20" x2="87.50" y2="519.20" stroke="#464646" stroke-width="1.15"/>
<line x1="64.40" y1="477.50" x2="64.40" y2="519.20" stroke="#464646" stroke-width="1.15"/>
<path d="M64.40,477.50 L66.20,483.50 L62.60,483.50 Z" fill="#222" stroke="none"/>
<path d="M64.40,519.20 L62.60,513.20 L66.20,513.20 Z" fill="#222" stroke="none"/>
<text x="62.80" y="498.40" font-size="11.8" text-anchor="middle" fill="#333" stroke="#333" stroke-width="0.15" transform="rotate(-90 62.80 498.40)">46</text>
<rect x="148.60" y="483.80" width="58.30" height="28.90" rx="0" stroke="#555" stroke-width="1.1" fill="none"/>
<rect x="166.50" y="483.90" width="19.90" height="28.90" rx="0" stroke="#333" stroke-width="1.3" fill="none"/>
<rect x="167.2" y="484.5" width="2.2" height="27.6" fill="#999"/>
<line x1="169.60" y1="483.80" x2="169.60" y2="512.70" stroke="#444" stroke-width="1.0"/>
<line x1="176.40" y1="470.20" x2="176.40" y2="526.60" stroke="#222" stroke-width="1.2"/>
<line x1="87.50" y1="498.00" x2="148.60" y2="498.00" stroke="#464646" stroke-width="1.1"/>
<line x1="206.90" y1="498.00" x2="265.50" y2="498.00" stroke="#464646" stroke-width="1.1"/>
<circle cx="176.40" cy="498.00" r="3.40" stroke="#444" stroke-width="1.1" fill="#ccc"/>
<path transform="translate(113.10,532.30) scale(1.100)" d="M0.6,0.6 H11.4 V11.6 H0.6 Z M4.6,1.8 L2.4,4.6 M3.8,2.8 H8.4 Q6.8,5.8 2.6,7.2 M5.2,4.6 Q7.5,6.2 9.8,6.8 M4.8,8 L7,8.8 M4.2,9.6 L7.4,10.6" stroke="#333" stroke-width="1.09" fill="none" stroke-linejoin="miter"/>
<text x="126.70" y="543.90" font-size="16" text-anchor="start" fill="#2a2a2a">9</text>
<text x="142.10" y="543.90" font-size="16" text-anchor="start" fill="#2a2a2a" letter-spacing="0.5" word-spacing="-0.8">Figure 9</text>
</svg></body></html>
